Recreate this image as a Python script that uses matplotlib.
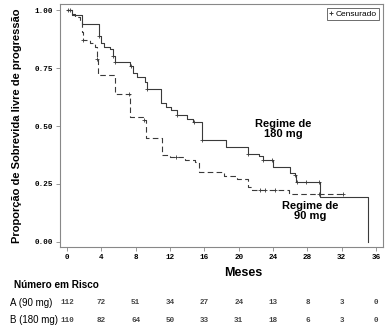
import numpy as np
import matplotlib.pyplot as plt
from matplotlib import transforms

# Kaplan-Meier steps (months, proportion)
t_180 = [0, 0.6, 1.75, 3.7, 3.9, 4.3, 5.0, 5.4, 5.6, 7.3, 7.7, 8.2, 9.1, 9.3,
         11.0, 11.5, 12.1, 12.8, 14.0, 14.7, 15.7, 18.5, 21.1, 22.3, 22.8,
         24.0, 26.0, 26.6, 26.7, 29.5, 35.0]
s_180 = [1.0, 0.98, 0.94, 0.89, 0.86, 0.84, 0.83, 0.80, 0.776, 0.76, 0.73, 0.71,
         0.69, 0.66, 0.60, 0.58, 0.57, 0.547, 0.53, 0.517, 0.44, 0.41, 0.38,
         0.37, 0.353, 0.323, 0.297, 0.29, 0.26, 0.194, 0.0]
cens_180 = [0.1, 3.7, 5.4, 5.6, 7.4, 9.3, 12.8, 14.8, 15.7, 21.1, 22.8, 23.9,
            26.6, 26.8, 27.8, 29.4]

t_90 = [0, 0.6, 0.9, 1.5, 1.75, 1.9, 2.7, 3.3, 3.5, 3.6, 5.6, 7.3, 8.9, 9.2,
        11.1, 12.0, 13.75, 14.9, 15.4, 18.3, 19.8, 21.1, 21.6, 25.8, 32.1]
s_90 = [1.0, 0.985, 0.97, 0.95, 0.905, 0.87, 0.86, 0.84, 0.79, 0.72, 0.64, 0.54,
        0.525, 0.45, 0.375, 0.366, 0.353, 0.345, 0.30, 0.285, 0.27, 0.237,
        0.224, 0.205, 0.205]
cens_90 = [0.3, 1.9, 3.5, 7.2, 9.0, 12.7, 22.5, 23.0, 24.2, 29.3, 32.1]

risk_times = [0, 4, 8, 12, 16, 20, 24, 28, 32, 36]
risk_90 = [112, 72, 51, 34, 27, 24, 13, 8, 3, 0]
risk_180 = [110, 82, 64, 50, 33, 31, 18, 6, 3, 0]


def step_value(times, surv, t):
    i = np.searchsorted(times, t, side="right") - 1
    return np.asarray(surv)[i]


line_col = "#3a3a3a"
mono = "Liberation Mono"

fig = plt.figure(figsize=(3.87, 3.31), dpi=100)
ax = fig.add_axes([60 / 387, 1 - 247 / 331, 323 / 387, 243 / 331])

ax.plot(t_180, s_180, drawstyle="steps-post", color=line_col, lw=0.8)
ax.plot(cens_180, step_value(t_180, s_180, cens_180), ls="none", marker="+",
        ms=2.5, mew=0.6, color=line_col)
ax.plot(t_90, s_90, drawstyle="steps-post", color=line_col, lw=0.8,
        ls=(0, (5, 3)))
ax.plot(cens_90, step_value(t_90, s_90, cens_90), ls="none", marker="+",
        ms=2.5, mew=0.6, color=line_col)

ax.set_xlim(-0.82, 36.8)
ax.set_ylim(-0.0216, 1.026)
ax.set_xticks(risk_times)
ax.set_yticks([0, 0.25, 0.5, 0.75, 1.0])
ax.set_yticklabels(["0.00", "0.25", "0.50", "0.75", "1.00"])
for lab in ax.get_xticklabels() + ax.get_yticklabels():
    lab.set_family(mono)
    lab.set_fontsize(5.5)
    lab.set_fontweight("bold")
ax.tick_params(length=3, width=0.6, color="#888888", pad=2)
for sp in ax.spines.values():
    sp.set_color("#888888")
    sp.set_linewidth(0.8)

ax.set_ylabel("Proporção de Sobrevida livre de progressão", fontsize=8,
              fontweight="bold", family="Liberation Sans", labelpad=9)

ax.text(25.2, 0.487, "Regime de\n180 mg", ha="center", va="center",
        fontsize=8, fontweight="bold", family="Liberation Sans", linespacing=1.1)
ax.text(28.3, 0.134, "Regime de\n90 mg", ha="center", va="center",
        fontsize=8, fontweight="bold", family="Liberation Sans", linespacing=1.1)

ax.plot([], [], ls="none", marker="+", ms=3, mew=0.7, color=line_col,
        label="Censurado")
leg = ax.legend(loc="upper right", fontsize=6, handlelength=0.5,
                handletextpad=0.3, borderpad=0.25, borderaxespad=0.5,
                fancybox=False, framealpha=1)
leg.get_frame().set_edgecolor("#555555")
leg.get_frame().set_linewidth(0.6)
for t in leg.get_texts():
    t.set_family("Liberation Sans")

# Risk table below the axis
tr = transforms.blended_transform_factory(ax.transData, fig.transFigure)
fig.text(243 / 387, 1 - 273 / 331, "Meses", ha="center", va="center",
         fontsize=9, fontweight="bold", family="Liberation Sans")
fig.text(14 / 387, 1 - 285 / 331, "Número em Risco", ha="left", va="center",
         fontsize=7.2, fontweight="bold", family="Liberation Sans")
fig.text(10 / 387, 1 - 303 / 331, "A (90 mg)", ha="left", va="center",
         fontsize=7, family="Liberation Sans")
fig.text(10 / 387, 1 - 320 / 331, "B (180 mg)", ha="left", va="center",
         fontsize=7, family="Liberation Sans")
for tm, a, b in zip(risk_times, risk_90, risk_180):
    fig.text(tm, 1 - 303 / 331, str(a), transform=tr, ha="center", va="center",
             fontsize=5.5, family=mono, fontweight="bold", color="#444444")
    fig.text(tm, 1 - 320 / 331, str(b), transform=tr, ha="center", va="center",
             fontsize=5.5, family=mono, fontweight="bold", color="#444444")

fig.savefig("out.png", dpi=100)
